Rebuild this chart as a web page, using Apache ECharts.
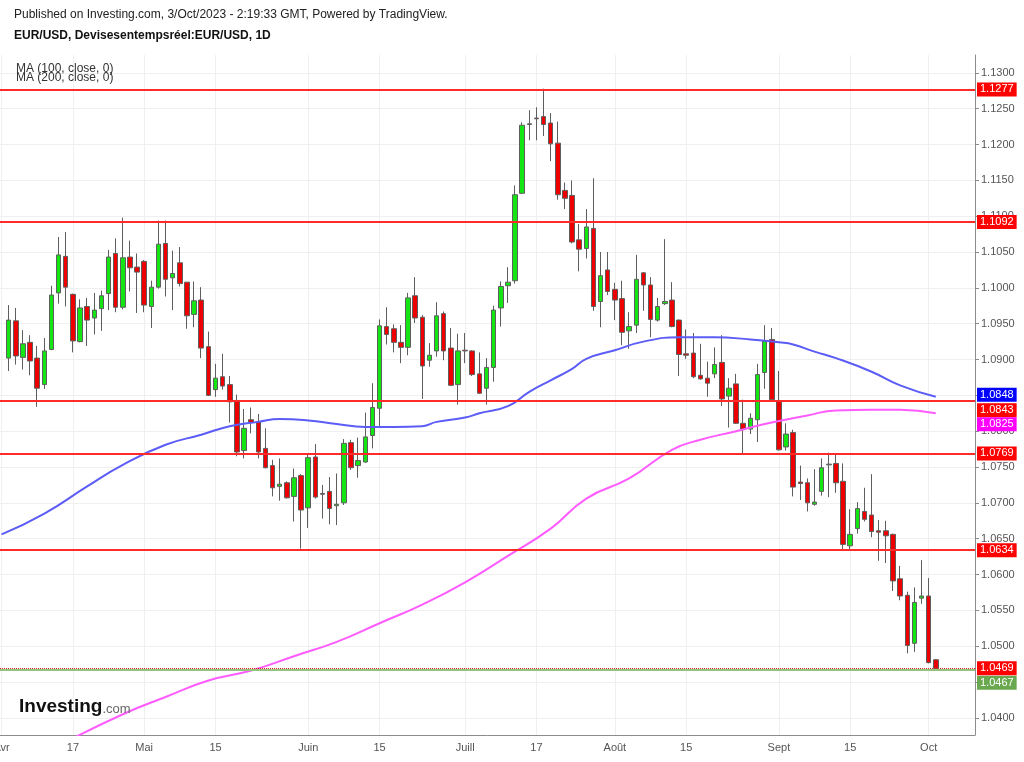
<!DOCTYPE html>
<html>
<head>
<meta charset="utf-8">
<title>EUR/USD 1D</title>
<script src="https://cdn.jsdelivr.net/npm/echarts@6/dist/echarts.min.js"></script>
<style>
	html, body { margin: 0; padding: 0; background: #fff; }
	#chart { width: 1024px; height: 762px; }
</style>
</head>
<body>
<div id="chart"></div>
<script>
	var FONT = '"Liberation Sans", Arial, sans-serif';

	// jours de cotation 2023 (MM-JJ), le 3 avril est coupé au bord gauche
	var dates = [
		'04-03','04-04','04-05','04-06','04-07','04-10','04-11','04-12','04-13','04-14','04-17','04-18','04-19','04-20','04-21','04-24','04-25','04-26','04-27','04-28',
		'05-01','05-02','05-03','05-04','05-05','05-08','05-09','05-10','05-11','05-12','05-15','05-16','05-17','05-18','05-19','05-22','05-23','05-24','05-25','05-26','05-29','05-30','05-31',
		'06-01','06-02','06-05','06-06','06-07','06-08','06-09','06-12','06-13','06-14','06-15','06-16','06-19','06-20','06-21','06-22','06-23','06-26','06-27','06-28','06-29','06-30',
		'07-03','07-04','07-05','07-06','07-07','07-10','07-11','07-12','07-13','07-14','07-17','07-18','07-19','07-20','07-21','07-24','07-25','07-26','07-27','07-28','07-31',
		'08-01','08-02','08-03','08-04','08-07','08-08','08-09','08-10','08-11','08-14','08-15','08-16','08-17','08-18','08-21','08-22','08-23','08-24','08-25','08-28','08-29','08-30','08-31',
		'09-01','09-04','09-05','09-06','09-07','09-08','09-11','09-12','09-13','09-14','09-15','09-18','09-19','09-20','09-21','09-22','09-25','09-26','09-27','09-28','09-29',
		'10-02','10-03'
	];
	var emptyDays = ['10-04','10-05','10-06','10-09','10-10'];

	// bougies [ouverture, plus haut, plus bas, clôture]
	var aprBars = [
		[1.0902,1.0976,1.0884,1.0955],[1.0954,1.0972,1.0893,1.0905],[1.0903,1.0941,1.0886,1.0922],[1.0924,1.0934,1.0878,1.0898],
		[1.0902,1.0919,1.0834,1.0860],[1.0865,1.0930,1.0859,1.0912],[1.0914,1.1003,1.0913,1.0990],[1.0993,1.1071,1.0978,1.1046],[1.1044,1.1078,1.0974,1.1001],
		[1.0991,1.0992,1.0910,1.0926],[1.0925,1.0984,1.0924,1.0972],[1.0974,1.0986,1.0919,1.0955],[1.0958,1.0993,1.0935,1.0969],[1.0971,1.0996,1.0940,1.0989],
		[1.0992,1.1053,1.0969,1.1043],[1.1048,1.1069,1.0966,1.0973],[1.0973,1.1098,1.0970,1.1042],[1.1043,1.1066,1.0995,1.1028],[1.1029,1.1048,1.0965,1.1022]
	];
	var mayBars = [
		[1.1037,1.1039,1.0966,1.0976],[1.0974,1.1010,1.0944,1.1001],[1.1001,1.1094,1.0999,1.1061],[1.1062,1.1094,1.0988,1.1012],[1.1014,1.1052,1.0969,1.1020],
		[1.1035,1.1057,1.1002,1.1006],[1.1008,1.1008,1.0943,1.0961],[1.0963,1.1009,1.0945,1.0982],[1.0983,1.1001,1.0902,1.0916],[1.0918,1.0939,1.0849,1.0850],
		[1.0858,1.0894,1.0848,1.0874],[1.0876,1.0908,1.0858,1.0863],[1.0865,1.0877,1.0812,1.0841],[1.0842,1.0851,1.0765,1.0771],[1.0773,1.0831,1.0762,1.0804],
		[1.0816,1.0833,1.0797,1.0812],[1.0813,1.0824,1.0762,1.0771],[1.0776,1.0804,1.0748,1.0749],[1.0752,1.0760,1.0709,1.0721],[1.0723,1.0762,1.0703,1.0726],
		[1.0728,1.0730,1.0706,1.0707],[1.0709,1.0748,1.0674,1.0735],[1.0738,1.0740,1.0636,1.0690]
	];
	var junBars = [
		[1.0693,1.0769,1.0665,1.0763],[1.0764,1.0782,1.0706,1.0708],
		[1.0713,1.0725,1.0678,1.0712],[1.0716,1.0736,1.0670,1.0692],[1.0696,1.0741,1.0669,1.0698],[1.0700,1.0789,1.0697,1.0783],[1.0784,1.0788,1.0746,1.0749],
		[1.0752,1.0791,1.0735,1.0759],[1.0757,1.0826,1.0756,1.0792],[1.0794,1.0867,1.0776,1.0833],[1.0832,1.0956,1.0806,1.0947],[1.0946,1.0973,1.0921,1.0935],
		[1.0943,1.0949,1.0910,1.0924],[1.0924,1.0948,1.0895,1.0917],[1.0917,1.0993,1.0906,1.0986],[1.0989,1.1015,1.0951,1.0958],[1.0959,1.0962,1.0845,1.0891],
		[1.0899,1.0923,1.0890,1.0906],[1.0912,1.0980,1.0904,1.0961],[1.0964,1.0967,1.0899,1.0912],[1.0916,1.0944,1.0863,1.0864],[1.0865,1.0936,1.0837,1.0912]
	];
	var julBars = [
		[1.0913,1.0937,1.0895,1.0912],[1.0912,1.0913,1.0877,1.0879],[1.0880,1.0910,1.0852,1.0853],[1.0860,1.0902,1.0837,1.0889],[1.0889,1.0975,1.0869,1.0969],
		[1.0972,1.1009,1.0946,1.1002],[1.1003,1.1029,1.0979,1.1008],[1.1010,1.1143,1.1006,1.1130],[1.1132,1.1231,1.1131,1.1227],[1.1228,1.1248,1.1206,1.1229],
		[1.1237,1.1252,1.1206,1.1236],[1.1239,1.1278,1.1212,1.1228],[1.1230,1.1244,1.1177,1.1201],[1.1202,1.1232,1.1123,1.1130],[1.1136,1.1147,1.1110,1.1125],
		[1.1129,1.1150,1.1062,1.1064],[1.1067,1.1089,1.1023,1.1054],[1.1055,1.1110,1.1041,1.1085],[1.1083,1.1153,1.0968,1.0974],[1.0981,1.1050,1.0945,1.1017],
		[1.1025,1.1050,1.0990,1.0995]
	];
	var augBars = [
		[1.0998,1.1007,1.0955,1.0983],[1.0985,1.1010,1.0920,1.0938],[1.0940,1.0966,1.0915,1.0946],[1.0948,1.1046,1.0937,1.1012],
		[1.1021,1.1022,1.0968,1.1004],[1.1004,1.1015,1.0931,1.0956],[1.0955,1.0986,1.0953,1.0974],[1.0978,1.1068,1.0976,1.0981],[1.0983,1.1008,1.0945,1.0946],
		[1.0955,1.0956,1.0877,1.0907],[1.0908,1.0942,1.0901,1.0906],[1.0909,1.0937,1.0874,1.0876],[1.0878,1.0922,1.0872,1.0873],[1.0874,1.0897,1.0848,1.0867],
		[1.0880,1.0917,1.0874,1.0893],[1.0896,1.0934,1.0835,1.0845],[1.0849,1.0874,1.0805,1.0860],[1.0866,1.0880,1.0810,1.0811],[1.0811,1.0844,1.0769,1.0803],
		[1.0803,1.0825,1.0796,1.0818],[1.0816,1.0894,1.0785,1.0879],[1.0882,1.0948,1.0859,1.0926],[1.0928,1.0944,1.0842,1.0844]
	];
	var sepBars = [
		[1.0842,1.0884,1.0773,1.0774],
		[1.0778,1.0811,1.0773,1.0796],[1.0798,1.0802,1.0709,1.0722],[1.0729,1.0752,1.0704,1.0727],[1.0728,1.0734,1.0688,1.0700],[1.0698,1.0747,1.0696,1.0701],
		[1.0716,1.0762,1.0710,1.0749],[1.0753,1.0770,1.0708,1.0754],[1.0755,1.0768,1.0714,1.0728],[1.0730,1.0755,1.0634,1.0642],[1.0640,1.0691,1.0635,1.0656],
		[1.0664,1.0701,1.0657,1.0692],[1.0688,1.0721,1.0674,1.0677],[1.0683,1.0740,1.0652,1.0660],[1.0661,1.0676,1.0619,1.0659],[1.0661,1.0675,1.0616,1.0654],
		[1.0656,1.0657,1.0577,1.0591],[1.0594,1.0612,1.0564,1.0570],[1.0571,1.0576,1.0490,1.0501],[1.0504,1.0582,1.0492,1.0561],[1.0567,1.0620,1.0559,1.0570]
	];
	var octBars = [
		[1.0570,1.0595,1.0476,1.0477],[1.0481,1.0482,1.0468,1.0469]
	];

	// moyennes mobiles [jour, valeur]
	var ma100 = [
		['04-03',1.0656],['04-11',1.0685],['04-19',1.0723],['04-26',1.0753],['05-04',1.0781],['05-11',1.0795],['05-17',1.0807],
		['05-23',1.0813],['05-26',1.0817],['06-01',1.0815],['06-07',1.0810],['06-13',1.0806],['06-19',1.0806],['06-23',1.0807],
		['06-27',1.0813],['07-03',1.0819],['07-05',1.0825],['07-11',1.0835],['07-14',1.0855],['07-19',1.0871],['07-24',1.0887],
		['07-26',1.0901],['08-01',1.0913],['08-07',1.0925],['08-14',1.0931],['08-21',1.0931],['08-28',1.0928],['09-01',1.0924],
		['09-05',1.0921],['09-08',1.0911],['09-13',1.0902],['09-20',1.0883],['09-26',1.0864],['10-03',1.0848]
	];
	var ma200 = [
		['04-13',1.0361],['04-26',1.0405],['05-04',1.0429],['05-12',1.0452],['05-22',1.0466],['05-30',1.0486],['06-07',1.0506],
		['06-15',1.0532],['06-23',1.0558],['07-03',1.0589],['07-11',1.0626],['07-19',1.0664],['07-26',1.0706],['08-03',1.0734],
		['08-11',1.0774],['08-17',1.0788],['08-24',1.0800],['08-30',1.0810],['09-07',1.0822],['09-13',1.0829],['09-20',1.0830],
		['09-26',1.0830],['10-03',1.0825]
	];

	// niveaux horizontaux tracés en rouge
	var levels = [1.1277, 1.1092, 1.0843, 1.0769, 1.0634];
	var lastPrice = 1.0469;
	var bidPrice = 1.0467;

	var yTicks = [1.0400,1.0450,1.0500,1.0550,1.0600,1.0650,1.0700,1.0750,1.0800,1.0850,1.0900,1.0950,1.1000,1.1050,1.1100,1.1150,1.1200,1.1250,1.1300];
	var xLabels = {
		'04-03':'Avr','04-17':'17','05-01':'Mai','05-15':'15','06-01':'Juin','06-15':'15','07-03':'Juill',
		'07-17':'17','08-01':'Août','08-15':'15','09-01':'Sept','09-15':'15','10-02':'Oct'
	};

	var chart = echarts.init(document.getElementById('chart'));

	var bars = aprBars.concat(mayBars, junBars, julBars, augBars, sepBars, octBars);
	var candleData = ['-'].concat(bars.map(function (b) {
		return [b[0], b[3], b[2], b[1]];   // ordre echarts : open, close, low, high
	}));

	function priceLabel(bg, dy) {
		return {
			show: true,
			position: 'end',
			distance: 2,
			formatter: function (p) { return Number(p.value).toFixed(4); },
			color: '#fff',
			fontSize: 11,
			fontFamily: FONT,
			lineHeight: 12,
			padding: [1, 3, 1, 3],
			backgroundColor: bg,
			offset: [0, dy || 0]
		};
	}

	var levelLines = levels.map(function (v) {
		return {
			yAxis: v,
			lineStyle: { color: '#ff2a2a', width: 2, type: 'solid' },
			label: priceLabel('#ff0000', v === 1.0843 ? 10 : 0)
		};
	});
	levelLines.push({
		yAxis: bidPrice,
		lineStyle: { color: '#93c47d', width: 2, type: 'solid' },
		label: priceLabel('#6aa84f', 13)
	});
	levelLines.push({
		yAxis: lastPrice,
		lineStyle: { color: '#e02020', width: 1, type: 'dotted' },
		label: priceLabel('#ff0000', 0)
	});

	var gridLines = Object.keys(xLabels).map(function (d) {
		return { xAxis: d };
	});

	var option = {
		animation: false,
		backgroundColor: '#fff',
		grid: { left: -2, right: 49, top: 55, bottom: 27, outerBoundsMode: 'none', containLabel: false },
		xAxis: {
			type: 'category',
			data: dates.concat(emptyDays),
			boundaryGap: true,
			axisLine: { lineStyle: { color: '#8c8c8c' } },
			axisTick: { show: false },
			axisLabel: {
				interval: function (i, v) { return xLabels[v] !== undefined; },
				formatter: function (v) { return xLabels[v] || ''; },
				color: '#555',
				fontSize: 11,
				fontFamily: FONT,
				margin: 7
			},
			splitLine: { show: false }
		},
		yAxis: {
			type: 'value',
			position: 'right',
			min: 1.0376,
			max: 1.1325,
			scale: true,
			axisLine: { show: true, lineStyle: { color: '#8c8c8c' } },
			axisTick: { show: true, length: 4, customValues: yTicks, lineStyle: { color: '#8c8c8c' } },
			axisLabel: {
				customValues: yTicks,
				formatter: function (v) { return v.toFixed(4); },
				color: '#555',
				fontSize: 11,
				fontFamily: FONT,
				margin: 6
			},
			splitLine: { show: true, lineStyle: { color: '#f0f0f0' } }
		},
		graphic: [
			{ type: 'text', left: 14, top: 9, z: 10, style: { text: 'Published on Investing.com, 3/Oct/2023 - 2:19:33 GMT, Powered by TradingView.', font: '12px ' + FONT, fill: '#222' } },
			{ type: 'text', left: 14, top: 30, z: 10, style: { text: 'EUR/USD, Devisesentempsréel:EUR/USD, 1D', font: 'bold 12px ' + FONT, fill: '#111' } },
			{ type: 'text', left: 16, top: 63, z: 10, style: { text: 'MA (100, close, 0)', font: '12px ' + FONT, fill: '#333' } },
			{ type: 'text', left: 16, top: 72, z: 10, style: { text: 'MA (200, close, 0)', font: '12px ' + FONT, fill: '#333' } },
			{
				type: 'text', left: 19, top: 697, z: 10,
				style: {
					text: '{a|Investing}{b|.com}',
					rich: {
						a: { font: 'bold 19px ' + FONT, fill: '#111' },
						b: { font: '13px ' + FONT, fill: '#666', padding: [5, 0, 0, 0] }
					}
				}
			}
		],
		series: [
			{
				// lignes verticales de la grille
				name: 'grille',
				type: 'line',
				data: [],
				markLine: {
					silent: true,
					z: 1,
					symbol: ['none', 'none'],
					label: { show: false },
					lineStyle: { color: '#efefef', width: 1, type: 'solid' },
					data: gridLines
				}
			},
			{
				name: 'EUR/USD',
				type: 'candlestick',
				data: candleData,
				barWidth: 5,
				itemStyle: {
					color: '#14e614',
					color0: '#ee0000',
					borderColor: '#5e5e5e',
					borderColor0: '#5e5e5e',
					borderWidth: 1
				},
				markLine: {
					silent: true,
					precision: 4,
					symbol: ['none', 'none'],
					data: levelLines
				}
			},
			{
				name: 'MA (100, close, 0)',
				type: 'line',
				data: ma100,
				smooth: true,
				symbol: 'none',
				lineStyle: { color: '#5c5cf6', width: 2 },
				markLine: {
					silent: true,
					precision: 4,
					symbol: ['none', 'none'],
					lineStyle: { color: 'rgba(0,0,0,0)', width: 1 },
					data: [{ yAxis: ma100[ma100.length - 1][1], label: priceLabel('#0000ff', -2) }]
				}
			},
			{
				name: 'MA (200, close, 0)',
				type: 'line',
				data: ma200,
				smooth: true,
				symbol: 'none',
				lineStyle: { color: '#ff5cff', width: 2 },
				markLine: {
					silent: true,
					precision: 4,
					symbol: ['none', 'none'],
					lineStyle: { color: 'rgba(0,0,0,0)', width: 1 },
					data: [{ yAxis: ma200[ma200.length - 1][1], label: priceLabel('#ff00ff', 11) }]
				}
			}
		]
	};

	chart.setOption(option);
</script>
</body>
</html>
